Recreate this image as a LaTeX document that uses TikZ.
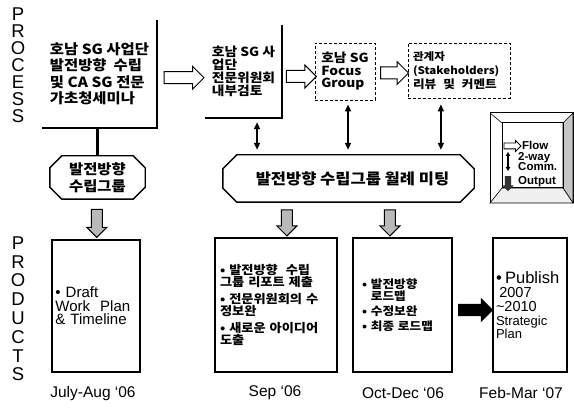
\documentclass[tikz,border=0pt]{standalone}
\usepackage{fontspec}
\setmainfont{Liberation Sans}
\newfontfamily\kr[FakeStretch=1.1]{Noto Sans CJK KR}
\usetikzlibrary{shapes.arrows,arrows.meta,calc}
\tikzset{
  topbox/.style={inner ysep=0pt, align=left},
  dashbox/.style={draw, densely dashed, line width=0.9pt},
  prodbox/.style={draw, line width=1.8pt, align=left, inner ysep=0pt},
  hexline/.style={line width=1.4pt},
  edgeline/.style={line width=1.6pt},
  flowarr/.style={single arrow, draw, fill=white, line width=1pt, inner xsep=0pt, inner ysep=5.5pt, single arrow head extend=5.5pt, single arrow head indent=0pt},
  outarr/.style={single arrow, draw, fill=gray!55, line width=1pt, inner xsep=5pt, inner ysep=0pt, single arrow head extend=4.5pt, shape border rotate=270},
  bigarr/.style={single arrow, fill=black, inner xsep=0pt, inner ysep=6pt, single arrow head extend=6pt},
  twoway/.style={{Triangle[length=7pt,width=6pt]}-{Triangle[length=7pt,width=6pt]}, line width=1.6pt},
  letter/.style={font=\fontsize{18.5}{18}\selectfont, inner sep=0pt},
  datetxt/.style={font=\fontsize{15.5}{15}\selectfont, inner sep=0pt},
  legtxt/.style={font=\bfseries\fontsize{11.5}{10.5}\selectfont, inner sep=0pt, anchor=west, align=left},
}
\newcommand{\octo}[3]{%
  \draw[hexline] ($(#1.north west)+(0,#3)$) -- ($(#1.north west)+(#2,0)$) -- ($(#1.north east)+(-#2,0)$) -- ($(#1.north east)+(0,#3)$) -- ($(#1.south east)+(0,-#3)$) -- ($(#1.south east)+(-#2,0)$) -- ($(#1.south west)+(#2,0)$) -- ($(#1.south west)+(0,-#3)$) -- cycle;}
\begin{document}
\begin{tikzpicture}[x=1pt,y=-1pt]
\useasboundingbox[fill=white] (0,0) rectangle (574,409);

% side labels
\foreach \l [count=\i from 0] in {P,R,O,C,E,S,S}
  \node[letter] (pc\i) at (18,{14+17*\i}) {\l};
\foreach \l [count=\i from 0] in {P,R,O,D,U,C,T,S}
  \node[letter] (pd\i) at (18,{243+18.8*\i}) {\l};

% process boxes
\node[topbox, minimum width=115pt, minimum height=108pt, inner xsep=5pt,
  font=\kr\bfseries\fontsize{14}{16.5}\selectfont] (b1) at (99.5,74)
  {호남 SG 사업단\\발전방향\ \ 수립\\및 CA SG 전문\\가초청세미나};
\draw[edgeline] (b1.north east) -- (b1.south east) -- (b1.south west);

\node[topbox, minimum width=77pt, minimum height=93pt, inner xsep=3.5pt,
  font=\kr\bfseries\fontsize{12.5}{12.8}\selectfont] (b2) at (243.5,71.5)
  {호남 SG 사\\업단\\전문위원회\\내부검토};
\draw[edgeline] (b2.north east) -- (b2.south east) -- (b2.south west);

\node[topbox, dashbox, minimum width=60pt, minimum height=57pt, inner xsep=3pt,
  font=\kr\bfseries\fontsize{12.5}{12.5}\selectfont] (b3) at (345,71.5)
  {호남 SG\\Focus\\Group};

\node[topbox, dashbox, minimum width=102pt, minimum height=55pt, text width=92pt, inner xsep=5pt,
  font=\kr\bfseries\fontsize{10.5}{14}\selectfont] (b4) at (459,70.5)
  {관계자\\(Stakeholders)\\{\fontsize{11.5}{14}\selectfont 리뷰\ \ 및\ \ 커멘트}};

% flow arrows
\node[flowarr, minimum height=40pt] (f1) at ($(b1.east)!0.5!(b2.west)+(0,5)$) {};
\node[flowarr, minimum height=30pt] (f2) at ($(b2.east)!0.5!(b3.west)+(0,5)$) {};
\node[flowarr, minimum height=28pt] (f3) at ($(b3.east)!0.5!(b4.west)+(0,2)$) {};

% hexagons
\node[minimum width=95pt, minimum height=43pt, inner sep=0pt, align=center,
  font=\kr\bfseries\fontsize{14}{17}\selectfont] (h1) at (97.5,177.5) {발전방향\\수립그룹};
\octo{h1}{12}{12}
\node[minimum width=251pt, minimum height=47pt, inner sep=0pt,
  font=\kr\bfseries\fontsize{15}{15}\selectfont] (h2) at (348.5,178.5) {\hspace*{8pt}발전방향 수립그룹 월례 미팅};
\octo{h2}{14}{14}

\draw[line width=2.5pt] (h1.north |- b1.south) -- (h1.north);

% two-way arrows
\coordinate (t2) at ($(b2.south west)!0.675!(b2.south east)$);
\coordinate (t3) at ($(b3.south west)!0.55!(b3.south east)$);
\coordinate (t4) at ($(b4.south west)!0.324!(b4.south east)$);
\draw[twoway, shorten <=4pt, shorten >=5pt] (t2) -- (t2 |- h2.north);
\draw[twoway, shorten <=4pt, shorten >=5pt] (t3) -- (t3 |- h2.north);
\draw[twoway, shorten <=6pt, shorten >=5pt] (t4) -- (t4 |- h2.north);

% product boxes
\node[prodbox, minimum width=88pt, minimum height=132pt, text width=81pt, inner xsep=3.5pt,
  font=\fontsize{15}{13.5}\selectfont] (p1) at (96,306)
  {• Draft\\Work\ \ Plan\\\&\ Timeline};
\node[prodbox, minimum width=122pt, minimum height=134pt, text width=112pt, inner xsep=5pt,
  font=\kr\bfseries\fontsize{12}{12.5}\selectfont] (p2) at (276,305)
  {• 발전방향\ \ 수립\\그룹 리포트 제출\\[4pt]• 전문위원회의 수\\정보완\\[4pt]• 새로운 아이디어\\도출};
\node[prodbox, minimum width=99pt, minimum height=134pt, text width=81pt, inner xsep=9pt,
  font=\kr\bfseries\fontsize{11.5}{12}\selectfont] (p3) at (402.5,305)
  {• 발전방향\\\phantom{• }로드맵\\[3.5pt]• 수정보완\\[3pt]• 최종 로드맵};
\node[prodbox, minimum width=74pt, minimum height=134pt, text width=68pt, inner xsep=3pt] (p4) at (530,305)
  {\fontsize{16.5}{16}\selectfont • Publish\\\fontsize{14.5}{14}\selectfont \ 2007\\\textasciitilde 2010\\\fontsize{13}{13.5}\selectfont Strategic\\Plan};

% output arrows
\node[outarr, minimum height=28pt] (o1) at ($(h1.south)!0.5!(p1.north)+(0,1.5)$) {};
\node[outarr, minimum height=26pt] (o2) at ($(h2.south west)!0.255!(h2.south east)+(0,18)$) {};
\node[outarr, minimum height=26pt] (o3) at ($(h2.south west)!0.665!(h2.south east)+(0,18)$) {};
\node[bigarr, minimum height=35pt] (ba) at ($(p3.east)!0.5!(p4.west)+(0,5)$) {};

% dates
\node[datetxt] (d1) at (93,393) {July-Aug ‘06};
\node[datetxt] (d2) at (275,393) {Sep ‘06};
\node[datetxt] (d3) at (403,393) {Oct-Dec ‘06};
\node[datetxt] (d4) at (521,393) {Feb-Mar ‘07};

% legend
\draw[line width=1pt] (490,113) rectangle (573,203);
\filldraw[fill=gray!45, line width=0.6pt] (563,123) -- (573,113) -- (573,203) -- (563,188) -- cycle;
\filldraw[fill=gray!12, line width=0.6pt] (502,188) -- (563,188) -- (573,203) -- (490,203) -- cycle;
\draw[line width=0.6pt] (490,113) -- (502,123);
\draw[line width=1pt] (502,123) rectangle (563,188);
\node[flowarr, minimum height=17pt, inner ysep=2.5pt, single arrow head extend=2.5pt, line width=0.8pt] (lf) at (511,146) {};
\node[legtxt] (lft) at (522,145.5) {Flow};
\coordinate (la) at (508,152);
\coordinate (lb) at (508,171);
\draw[{Triangle[length=4pt,width=4.5pt]}-{Triangle[length=4pt,width=4.5pt]}, line width=1.2pt] (la) -- (lb);
\node[legtxt] (lct) at (518,161.5) {2-way\\Comm.};
\node[single arrow, fill=black!80, inner xsep=3pt, inner ysep=0pt, single arrow head extend=2.5pt, shape border rotate=270, minimum height=15pt] (lo) at (508,182) {};
\node[legtxt] (lot) at (518,182) {Output};
\end{tikzpicture}
\end{document}
